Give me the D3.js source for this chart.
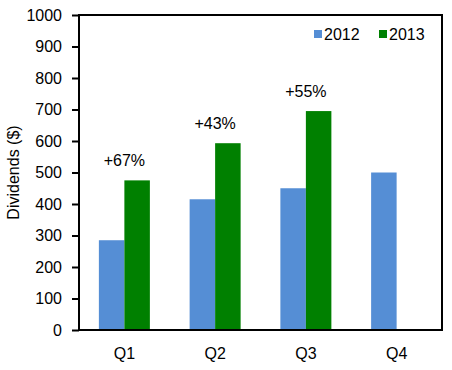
<!DOCTYPE html>
<meta charset="utf-8">
<title>Dividends by quarter</title>
<style>
    body { margin: 0; background: #fff; }
    text { font-family: "Liberation Sans", Arial, sans-serif; font-size: 16px; fill: #000; }
</style>
<svg width="452" height="370"></svg>
<script src="https://cdn.jsdelivr.net/npm/d3@7"></script>
<script>
    // data
    const quarters = ["Q1", "Q2", "Q3", "Q4"];
    const seriesNames = ["2012", "2013"];
    const values2012 = [285, 415, 450, 500];
    const values2013 = [475, 593, 695, null];
    const growthLabels = ["+67%", "+43%", "+55%", null];
    const yTicks = [0, 100, 200, 300, 400, 500, 600, 700, 800, 900, 1000];
    const colors = ["#558ed5", "#008000"];

    const svg = d3.select("svg");
    const margin = { top: 15, right: 10, bottom: 40, left: 79 };
    const w = 452 - margin.left - margin.right;
    const h = 370 - margin.top - margin.bottom;

    const g = svg.append("g")
        .attr("transform", `translate(${margin.left},${margin.top})`);

    const x = d3.scaleBand().domain(quarters).range([0, w]).padding(0);
    const x1 = d3.scaleBand().domain(seriesNames)
        .range([0, x.bandwidth() * 0.562]).padding(0);
    const groupOffset = (x.bandwidth() - x1.range()[1]) / 2;
    const y = d3.scaleLinear().domain([0, 1000]).range([h, 0]);

    const rows = quarters.map((q, i) => ({ q, vals: [values2012[i], values2013[i]], label: growthLabels[i] }));

    // bars
    const grp = g.selectAll(".grp").data(rows).join("g")
        .attr("transform", d => `translate(${x(d.q) + groupOffset},0)`);
    grp.selectAll("rect")
        .data(d => d.vals.map((v, k) => ({ s: seriesNames[k], v, k })).filter(e => e.v != null))
        .join("rect")
        .attr("x", e => x1(e.s))
        .attr("y", e => y(e.v))
        .attr("width", x1.bandwidth())
        .attr("height", e => h - y(e.v))
        .attr("fill", e => colors[e.k]);

    // growth labels
    g.selectAll(".growth").data(rows.filter(d => d.label)).join("text")
        .attr("x", d => x(d.q) + x.bandwidth() / 2)
        .attr("y", d => y(d.vals[1]) - 14)
        .attr("text-anchor", "middle")
        .text(d => d.label);

    // y axis
    const yAxis = g.append("g")
        .call(d3.axisLeft(y).tickValues(yTicks).tickFormat(d3.format("d")).tickSize(7).tickPadding(10));
    yAxis.select(".domain").remove();
    yAxis.selectAll(".tick line").attr("stroke", "#000").attr("stroke-width", 2);
    yAxis.selectAll(".tick text").style("font-size", "16px").attr("fill", "#000");

    // x axis labels
    const xAxis = g.append("g")
        .attr("transform", `translate(0,${h})`)
        .call(d3.axisBottom(x).tickSize(0).tickPadding(18));
    xAxis.select(".domain").remove();
    xAxis.selectAll(".tick text").style("font-size", "16px").attr("fill", "#000");

    // frame
    g.append("rect")
        .attr("width", w).attr("height", h)
        .attr("fill", "none").attr("stroke", "#000").attr("stroke-width", 2);

    // y title
    svg.append("text")
        .attr("transform", `translate(19,${margin.top + h / 2}) rotate(-90)`)
        .attr("text-anchor", "middle")
        .text("Dividends ($)");

    // legend
    const legendX = [314, 379];
    const lg = svg.selectAll(".lg").data(seriesNames).join("g")
        .attr("transform", (d, i) => `translate(${legendX[i]},34)`);
    lg.append("rect").attr("x", 0).attr("y", -4).attr("width", 8).attr("height", 8)
        .attr("fill", (d, i) => colors[i]);
    lg.append("text").attr("x", 10).attr("y", 6).text(d => d);
</script>
